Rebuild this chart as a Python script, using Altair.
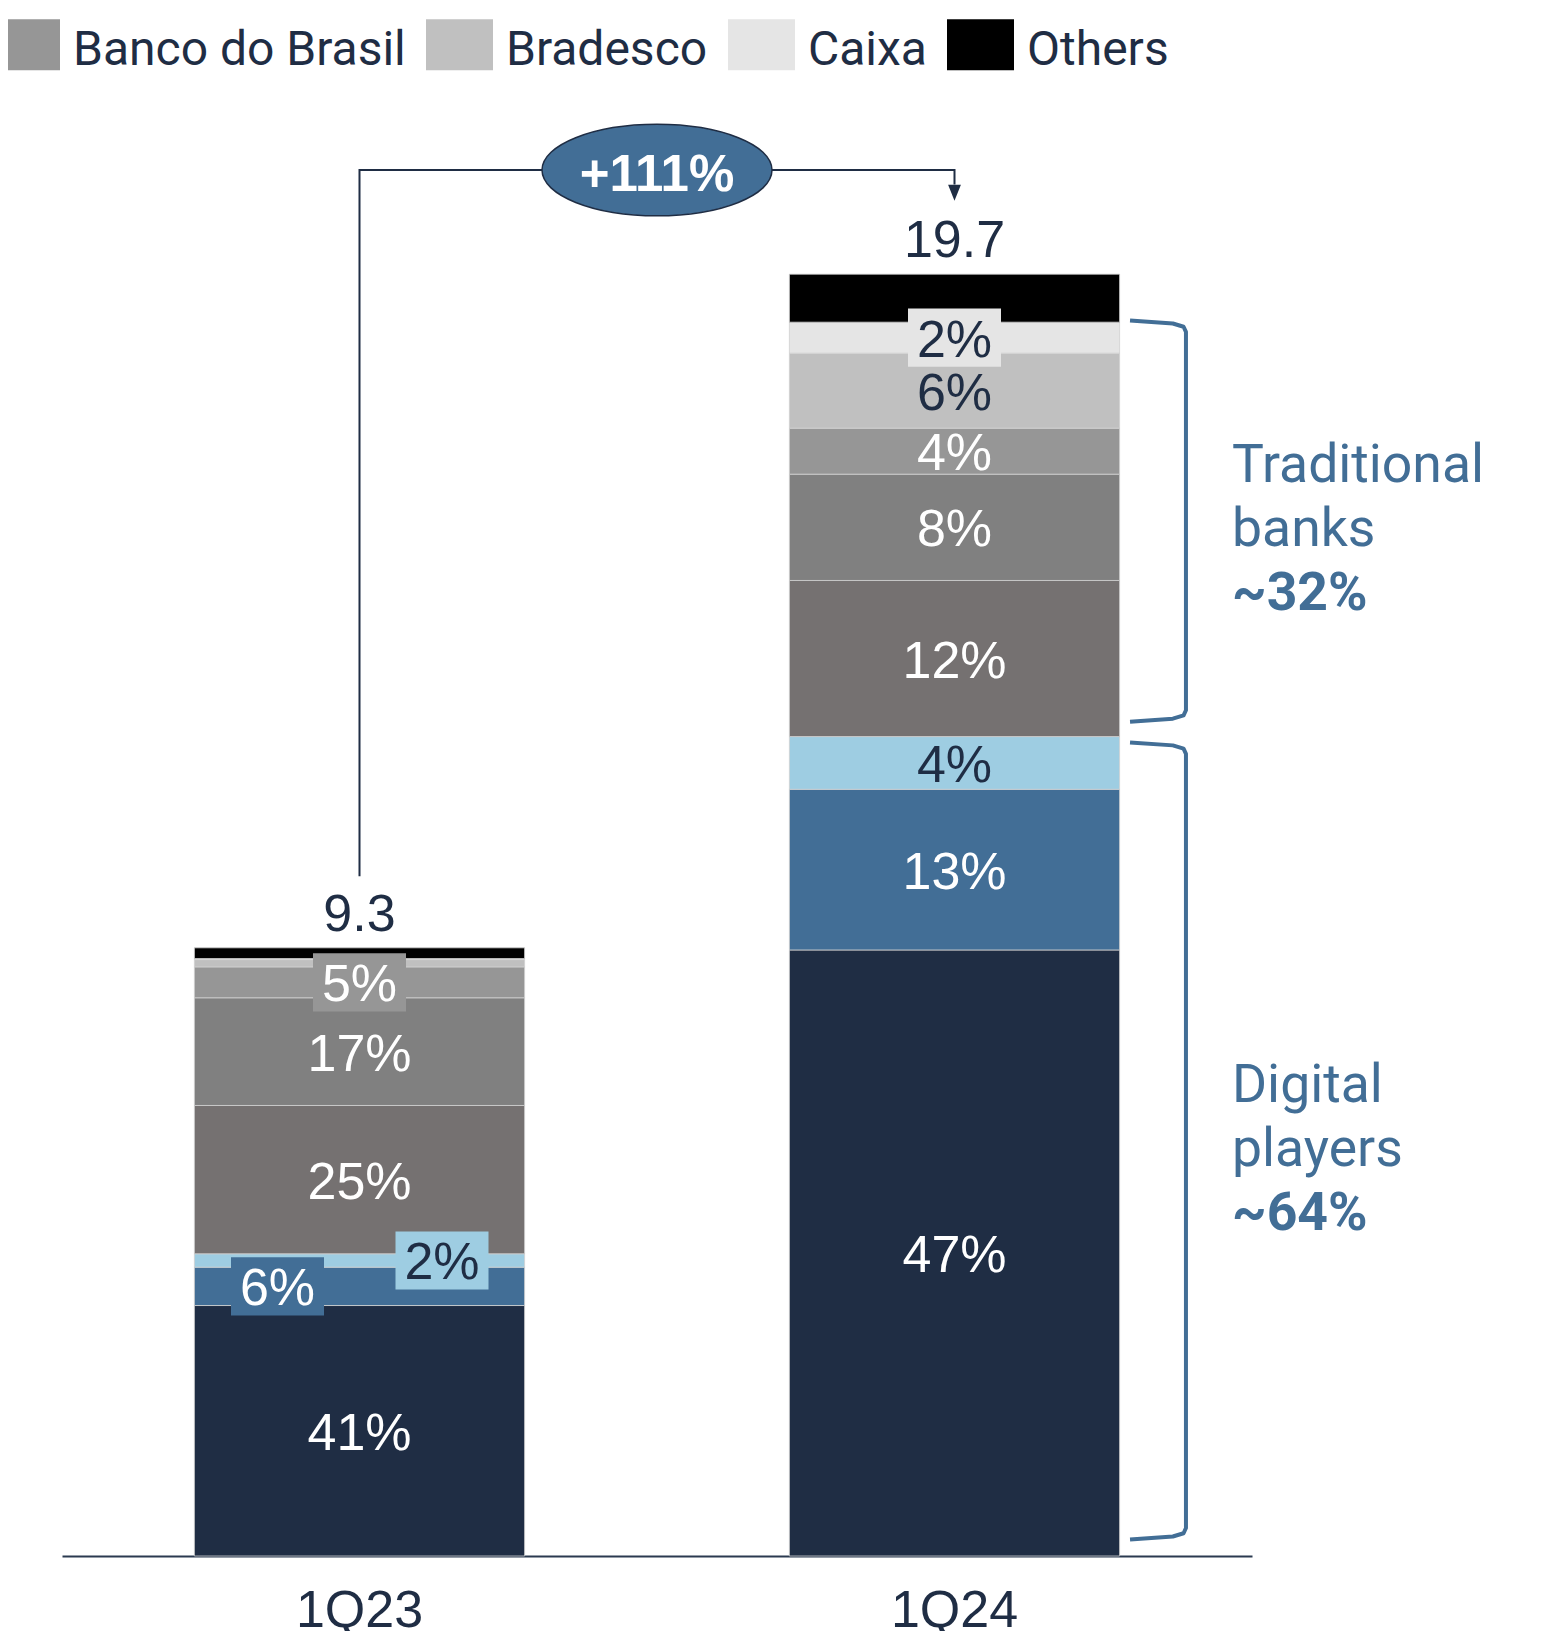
import altair as alt
import pandas as pd

# ---------------- data ----------------
quarters = ["1Q23", "1Q24"]
total_labels = ["9.3", "19.7"]

companies = ["Digital player A", "Digital player B", "Digital player C",
             "Traditional bank A", "Traditional bank B",
             "Banco do Brasil", "Bradesco", "Caixa", "Others"]
colors = ["#1F2D44", "#426E96", "#9ECDE2", "#757171", "#808080",
          "#969696", "#C0C0C0", "#E5E5E5", "#000000"]
is_digital = [True, True, True, False, False, False, False, False, False]

values_1q23 = [3.85, 0.59, 0.205, 2.28, 1.655, 0.475, 0.112, 0.016, 0.165]
values_1q24 = [9.315, 2.47, 0.81, 2.40, 1.634, 0.707, 1.153, 0.476, 0.738]

labels_1q23 = ["41%", "6%", "2%", "25%", "17%", "5%", "", "", ""]
labels_1q24 = ["47%", "13%", "4%", "12%", "8%", "4%", "6%", "2%", ""]

# label placement inside the bar: c = centred, l = left, r = right
place_1q23 = ["c", "l", "r", "c", "c", "c", "c", "c", "c"]
place_1q24 = ["c", "c", "c", "c", "c", "c", "c", "c", "c"]
# labels drawn on a tile of the segment colour
boxed_1q23 = [False, True, True, False, False, True, False, False, False]
boxed_1q24 = [False, False, False, False, False, False, False, True, False]

legend_names = ["Banco do Brasil", "Bradesco", "Caixa", "Others"]
dark_text_companies = ["Digital player C", "Bradesco", "Caixa"]

growth_label = "+111%"
group_titles = [["Traditional", "banks"], ["Digital", "players"]]
group_shares = ["~32%", "~64%"]

# ---------------- style ----------------
NAVY = "#1F2D44"
BLUE = "#426E96"
WHITE = "#FFFFFF"
ARIAL = "Liberation Sans, Arial, sans-serif"
ROBOTO = "Roboto, sans-serif"

# ---------------- tables ----------------
rows = []
for q, vals, labs, pls, bxs in [
    ("1Q23", values_1q23, labels_1q23, place_1q23, boxed_1q23),
    ("1Q24", values_1q24, labels_1q24, place_1q24, boxed_1q24),
]:
    base = 0.0
    for i, c in enumerate(companies):
        v = vals[i]
        rows.append(dict(quarter=q, company=c, idx=i, y0=base, y1=base + v,
                         mid=base + v / 2, label=labs[i], place=pls[i],
                         boxed=bxs[i],
                         tcolor=NAVY if c in dark_text_companies else WHITE))
        base += v
seg = pd.DataFrame(rows)

tot = pd.DataFrame({"quarter": quarters,
                    "top": [sum(values_1q23), sum(values_1q24)],
                    "label": total_labels})

# connector with growth bubble
sum23, sum24 = sum(values_1q23), sum(values_1q24)
y_low = sum23 + 1.1
y_top = sum24 + 1.6
conn = pd.DataFrame({"u": [0.25, 0.25, 0.75, 0.75],
                     "y": [y_low, y_top, y_top, y_top - 0.22],
                     "i": [0, 1, 2, 3]})
arrow = pd.DataFrame({"u": [0.75], "y": [y_top - 0.35]})
bubble = pd.DataFrame({"u": [0.5], "y": [y_top], "t": [growth_label]})

# brackets
digital_24 = sum(v for v, d in zip(values_1q24, is_digital) if d)
trad_top = sum24 - values_1q24[-1]
trad_bot = digital_24 + 0.255
dig_top = digital_24 - 0.115
dig_bot = 0.28

bx = [0.8975, 0.9335, 0.9425, 0.9445, 0.9445, 0.9425, 0.9335, 0.8975]
brows = []
for g, (T, B) in enumerate([(trad_top, trad_bot), (dig_top, dig_bot)]):
    ys = [T + 0.025, T - 0.02, T - 0.07, T - 0.15, B + 0.15, B + 0.07, B + 0.02, B - 0.025]
    for i, (u, y) in enumerate(zip(bx, ys)):
        brows.append(dict(g=g, i=i, u=u, y=y))
brk = pd.DataFrame(brows)

side = pd.DataFrame({
    "u": [0.9832, 0.9832],
    "y": [(trad_top + trad_bot) / 2, (dig_top + dig_bot) / 2],
    "title": ["\n".join(t) for t in group_titles],
    "share": group_shares,
})

# ---------------- scales ----------------
yscale = alt.Scale(domain=[0, 22.38], nice=False, zero=False)
color_scale = alt.Scale(domain=companies, range=colors)
xband_scale = alt.Scale(paddingInner=0.445, paddingOuter=0.2225)
uscale = alt.Scale(domain=[0, 1], nice=False, zero=False)

legend_shape = "M-1,-0.94H1V0.58H-1Z"
box_shape = "M-1,-0.625H1V0.625H-1Z"
ellipse_shape = "M-1,0A1,0.398 0 1,0 1,0A1,0.398 0 1,0 -1,0Z"
arrow_shape = "M-0.8,-1L0.8,-1L0,1Z"

x_axis = alt.Axis(title=None, labelAngle=0, labelFont=ARIAL,
                  labelFontSize=52, labelColor=NAVY,
                  labelBaseline="alphabetic", labelPadding=70,
                  ticks=False, tickSize=0, grid=False,
                  domainColor="#2B3A50", domainWidth=2)
xband = alt.X("quarter:N", sort=quarters, scale=xband_scale, axis=x_axis)

legend = alt.Legend(orient="none", legendX=-69, legendY=-83,
                    direction="horizontal", columns=4, title=None,
                    values=legend_names, symbolType=legend_shape,
                    symbolSize=4489, symbolStrokeWidth=0, symbolOpacity=1,
                    labelFont=ROBOTO, labelFontSize=48, labelColor=NAVY,
                    labelOffset=13, columnPadding=20, labelLimit=0, padding=0)

bars = alt.Chart(seg).mark_bar(stroke="#D0D0D0", strokeWidth=0.8).encode(
    x=xband,
    y=alt.Y("y0:Q", scale=yscale, axis=None),
    y2="y1:Q",
    color=alt.Color("company:N", scale=color_scale, legend=legend),
)

lab = alt.Chart(seg).transform_filter("datum.label != ''")
offsets = {"c": 0, "l": -82, "r": 82.5}


def box_layer(p):
    return lab.transform_filter(f"datum.boxed && datum.place == '{p}'").mark_point(
        shape=box_shape, size=8649, filled=True, opacity=1, strokeWidth=0,
        xOffset=offsets[p]
    ).encode(
        x=xband,
        y=alt.Y("mid:Q", scale=yscale, axis=None),
        color=alt.Color("company:N", scale=color_scale, legend=None),
    )


def text_layer(p):
    return lab.transform_filter(f"datum.place == '{p}'").mark_text(
        font=ARIAL, fontSize=52, baseline="alphabetic", align="center",
        dy=19, dx=offsets[p]
    ).encode(
        x=xband,
        y=alt.Y("mid:Q", scale=yscale, axis=None),
        text="label:N",
        color=alt.Color("tcolor:N", scale=None),
    )


totals = alt.Chart(tot).mark_text(
    font=ARIAL, fontSize=52, baseline="alphabetic", align="center",
    dy=-17, color=NAVY
).encode(
    x=xband,
    y=alt.Y("top:Q", scale=yscale, axis=None),
    text="label:N",
)

bar_part = alt.layer(
    bars,
    box_layer("c"), box_layer("l"), box_layer("r"),
    text_layer("c"), text_layer("l"), text_layer("r"),
    totals,
)

xu = alt.X("u:Q", scale=uscale, axis=None)

conn_line = alt.Chart(conn).mark_line(color=NAVY, strokeWidth=2).encode(
    x=xu, y=alt.Y("y:Q", scale=yscale, axis=None), order="i:Q")
arrow_head = alt.Chart(arrow).mark_point(
    shape=arrow_shape, size=256, filled=True, color=NAVY, opacity=1
).encode(x=xu, y=alt.Y("y:Q", scale=yscale, axis=None))
bubble_shape = alt.Chart(bubble).mark_point(
    shape=ellipse_shape, size=52900, filled=True, fill=BLUE, stroke=NAVY,
    strokeWidth=1.5, opacity=1, fillOpacity=1
).encode(x=xu, y=alt.Y("y:Q", scale=yscale, axis=None))
bubble_text = alt.Chart(bubble).mark_text(
    font=ARIAL, fontWeight="bold", fontSize=51, color=WHITE,
    baseline="alphabetic", align="center", dy=21
).encode(x=xu, y=alt.Y("y:Q", scale=yscale, axis=None), text="t:N")

brackets = alt.Chart(brk).mark_line(
    color=BLUE, strokeWidth=4, strokeJoin="round"
).encode(x=xu, y=alt.Y("y:Q", scale=yscale, axis=None), order="i:Q",
         detail="g:N")

side_titles = alt.Chart(side).mark_text(
    font=ROBOTO, fontSize=53.5, color=BLUE, align="left", baseline="alphabetic",
    lineBreak="\n", lineHeight=64, dy=-39
).encode(x=xu, y=alt.Y("y:Q", scale=yscale, axis=None), text="title:N")
side_shares = alt.Chart(side).mark_text(
    font=ROBOTO, fontWeight="bold", fontSize=53.5, color=BLUE, align="left",
    baseline="alphabetic", dy=89
).encode(x=xu, y=alt.Y("y:Q", scale=yscale, axis=None), text="share:N")

annot_part = alt.layer(conn_line, arrow_head, bubble_shape, bubble_text,
                       brackets, side_titles, side_shares)

chart = alt.layer(bar_part, annot_part).resolve_scale(
    x="independent"
).properties(
    width=1190, height=1456,
    padding={"left": 54, "top": 92, "right": 282, "bottom": 75},
    autosize=alt.AutoSizeParams(type="none"),
).configure_view(stroke=None)

chart.save("out.html", embed_options={"renderer": "svg", "actions": False})
